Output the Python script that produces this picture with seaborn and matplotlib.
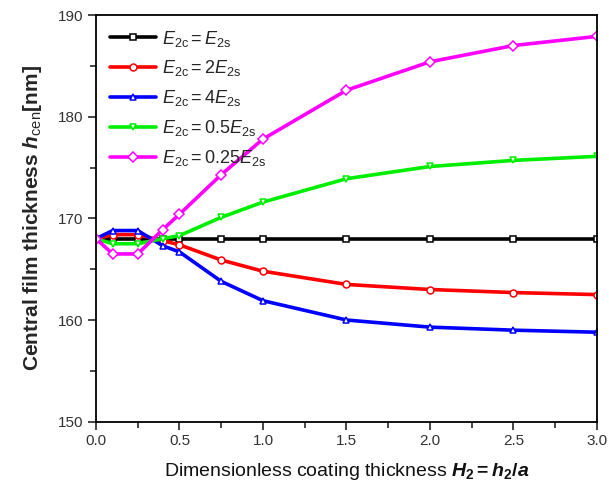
import numpy as np
import pandas as pd
import matplotlib
matplotlib.use("Agg")
import matplotlib.pyplot as plt
import seaborn as sns

# Dimensionless coating thickness H2 = h2/a
H2 = [0.0, 0.1, 0.25, 0.4, 0.5, 0.75, 1.0, 1.5, 2.0, 2.5, 3.0]

# Central film thickness h_cen [nm] for each coating/substrate modulus ratio
h_equal = [168.0, 168.0, 168.0, 168.0, 168.0, 168.0, 168.0, 168.0, 168.0, 168.0, 168.0]
h_2x = [168.0, 168.4, 168.4, 167.8, 167.4, 165.9, 164.8, 163.5, 163.0, 162.7, 162.5]
h_4x = [168.0, 168.8, 168.8, 167.3, 166.7, 163.8, 161.9, 160.0, 159.3, 159.0, 158.8]
h_05x = [168.0, 167.5, 167.5, 168.0, 168.3, 170.1, 171.6, 173.9, 175.1, 175.7, 176.1]
h_025x = [168.0, 166.5, 166.5, 168.9, 170.4, 174.3, 177.8, 182.6, 185.4, 187.0, 187.9]

labels = [
    r"$E_{\rm 2c}=E_{\rm 2s}$",
    r"$E_{\rm 2c}=2E_{\rm 2s}$",
    r"$E_{\rm 2c}=4E_{\rm 2s}$",
    r"$E_{\rm 2c}=0.5E_{\rm 2s}$",
    r"$E_{\rm 2c}=0.25E_{\rm 2s}$",
]
series = [h_equal, h_2x, h_4x, h_05x, h_025x]
colors = ["#000000", "#ff0000", "#0000ff", "#00ee00", "#ff00ff"]
markers = ["s", "o", "^", "v", "D"]

df = pd.concat(
    [pd.DataFrame({"H2": H2, "h": vals, "case": lab}) for lab, vals in zip(labels, series)],
    ignore_index=True,
)

sns.set_style("ticks")
plt.rcParams["font.family"] = ["Liberation Sans", "DejaVu Sans"]
plt.rcParams["mathtext.fontset"] = "custom"
plt.rcParams["mathtext.rm"] = "Liberation Sans"
plt.rcParams["mathtext.it"] = "Liberation Sans:italic"
plt.rcParams["mathtext.bf"] = "Liberation Sans:bold"
plt.rcParams["mathtext.bfit"] = "Liberation Sans:bold:italic"

fig = plt.figure(figsize=(6.09, 4.94), dpi=100)
ax = fig.add_axes([0.1576, 0.1464, 0.8227, 0.8232])

sns.lineplot(
    data=df, x="H2", y="h", hue="case", style="case",
    palette=dict(zip(labels, colors)),
    markers=dict(zip(labels, markers)),
    dashes=False, linewidth=2.6, markersize=5,
    markerfacecolor="white", markeredgewidth=1.1,
    ax=ax,
)
for line, c in zip(ax.lines, colors):
    line.set_markeredgecolor(c)

ax.set_xlim(0, 3.0)
ax.set_ylim(150, 190)
ax.set_xticks(np.arange(0, 3.01, 0.5))
ax.set_xticks(np.arange(0.25, 3.0, 0.5), minor=True)
ax.set_yticks(np.arange(150, 190.1, 10))
ax.set_yticks(np.arange(155, 190, 10), minor=True)
ax.xaxis.set_major_formatter(matplotlib.ticker.FormatStrFormatter("%.1f"))

for s in ax.spines.values():
    s.set_visible(True)
    s.set_color("black")
    s.set_linewidth(1.3)

ax.tick_params(axis="both", which="major", direction="out", length=6, width=1.2,
               labelsize=11, labelcolor="#333333", pad=3)
ax.tick_params(axis="both", which="minor", direction="out", length=4, width=1.2)
ax.tick_params(top=False, right=False, which="both")

ax.set_xlabel(r"Dimensionless coating thickness $\mathbfit{H}_{\mathbf{2}}\mathbf{=}\mathbfit{h}_{\mathbf{2}}\mathbf{/}\mathbfit{a}$",
              fontsize=14, labelpad=9, color="#111111")
ax.set_ylabel(r"Central film thickness $\mathbfit{h}_{\rm cen}$[nm]",
              fontsize=15, fontweight="bold", labelpad=10)

leg = ax.legend(loc="upper left", bbox_to_anchor=(0.0, 1.0), frameon=False,
                fontsize=13, handlelength=2.6, handletextpad=0.3,
                labelspacing=0.55, borderaxespad=0.35)
for h, c, m in zip(leg.legend_handles, colors, markers):
    h.set_color(c)
    h.set_marker(m)
    h.set_markerfacecolor("white")
    h.set_markeredgecolor(c)
    h.set_linewidth(2.6)

fig.savefig("out.png", dpi=100)
